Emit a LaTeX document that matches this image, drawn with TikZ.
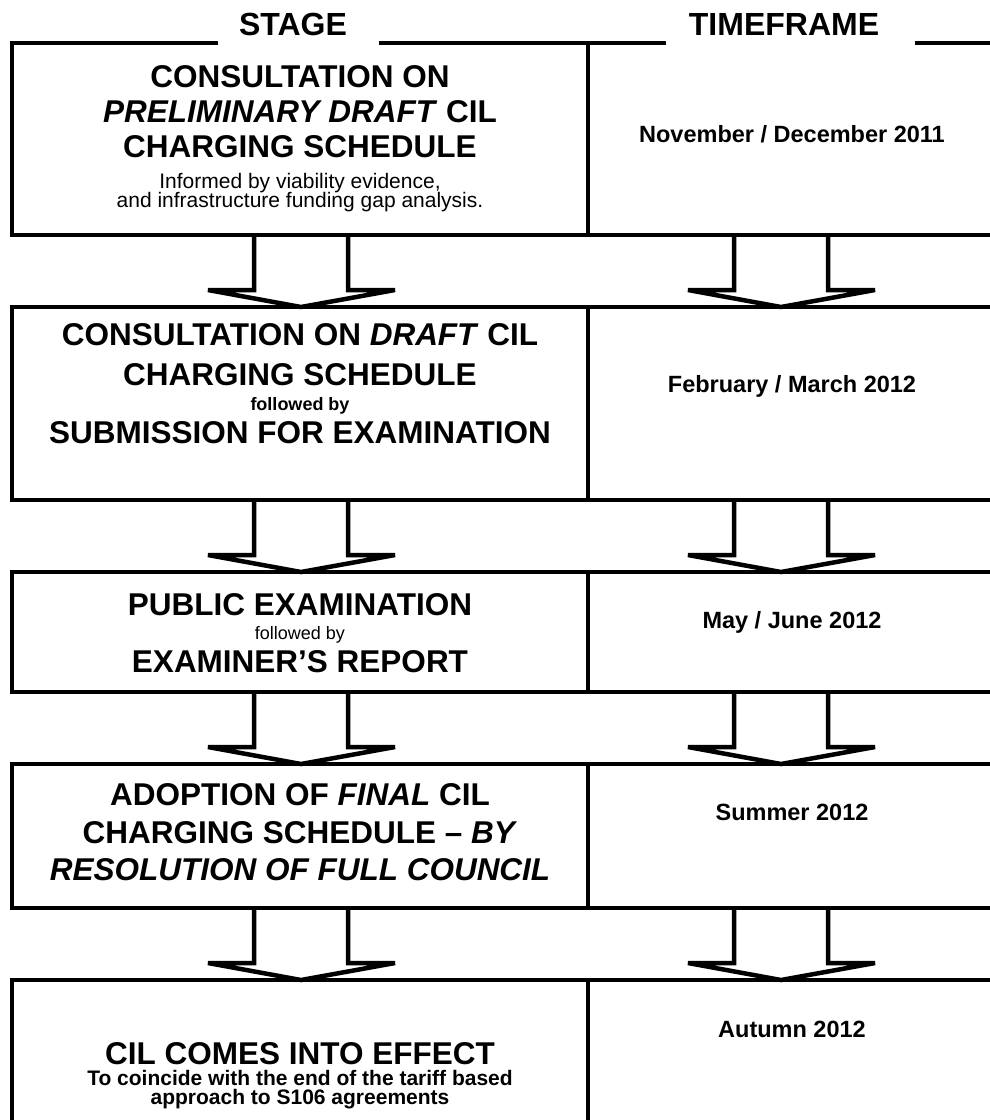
\documentclass[tikz,border=0pt]{standalone}
\usepackage{fontspec}
\setmainfont{Liberation Sans}
\usetikzlibrary{calc}
\tikzset{
  ln/.style={line width=4.5pt, line join=miter, line cap=butt},
  cellL/.style={ln, draw, minimum width=576pt, inner sep=0pt, outer sep=0pt},
  cellR/.style={ln, draw, minimum width=408pt, inner sep=0pt, outer sep=0pt},
  hdr/.style={font=\bfseries\fontsize{32}{36}\selectfont, anchor=base, inner sep=0pt},
  big/.style={font=\bfseries\fontsize{31.5}{36}\selectfont, anchor=base, inner sep=0pt},
  note/.style={font=\fontsize{21}{24}\selectfont, anchor=base, inner sep=0pt},
  noteb/.style={font=\bfseries\fontsize{21}{24}\selectfont, anchor=base, inner sep=0pt},
  fol/.style={font=\fontsize{18}{20}\selectfont, anchor=base, inner sep=0pt},
  folb/.style={font=\bfseries\fontsize{18}{20}\selectfont, anchor=base, inner sep=0pt},
  timetxt/.style={font=\bfseries\fontsize{23.5}{28}\selectfont, anchor=base, inner sep=0pt},
  arr/.style={ln},
}
\newcommand\flowarrow[3]{%
  \draw[arr] ($(#1.south)+(#3-47,0)$) -- ($(#1.south)+(#3-47,55)$) -- ($(#1.south)+(#3-93,55)$)
    -- ($(#2.north)+(#3,0)$) -- ($(#1.south)+(#3+94,55)$) -- ($(#1.south)+(#3+47,55)$)
    -- ($(#1.south)+(#3+47,0)$);}
\begin{document}
\begin{tikzpicture}[x=1pt,y=-1pt]
\useasboundingbox (0,0) rectangle (990,1120);
\clip (0,0) rectangle (990,1120);
\fill[white] (0,0) rectangle (990,1120);

% header
\node[hdr] (stage) at (293,35.5) {STAGE};
\node[hdr] (tframe) at (784,35.5) {TIMEFRAME};
\coordinate (g1) at (218,43);
\coordinate (g2) at (379,43);
\coordinate (g3) at (666,43);
\coordinate (g4) at (915,43);

% cells
\node[cellL, draw=none, minimum height=192pt] (s1) at (300,139) {};
\node[cellR, draw=none, minimum height=192pt] (f1) at (792,139) {};
\draw[ln] (g1) -- (s1.north west) -- (s1.south west) -- (s1.south east) -- (f1.south east) -- (f1.north east) -- (g4);
\draw[ln] (g2) -- (g3);
\draw[ln] (s1.north east) -- (s1.south east);

\node[cellL, minimum height=193pt] (s2) at (300,403.5) {};
\node[cellR, minimum height=193pt] (f2) at (792,403.5) {};
\node[cellL, minimum height=120pt] (s3) at (300,632) {};
\node[cellR, minimum height=120pt] (f3) at (792,632) {};
\node[cellL, minimum height=144pt] (s4) at (300,836) {};
\node[cellR, minimum height=144pt] (f4) at (792,836) {};
\node[cellL, minimum height=150pt] (s5) at (300,1055) {};
\node[cellR, minimum height=150pt] (f5) at (792,1055) {};

% arrows
\flowarrow{s1}{s2}{1}
\flowarrow{f1}{f2}{-11}
\flowarrow{s2}{s3}{1}
\flowarrow{f2}{f3}{-11}
\flowarrow{s3}{s4}{1}
\flowarrow{f3}{f4}{-11}
\flowarrow{s4}{s5}{1}
\flowarrow{f4}{f5}{-11}

% row 1
\node[big] (t1a) at (300,87) {CONSULTATION ON};
\node[big] (t1b) at (300,122) {\textit{PRELIMINARY DRAFT} CIL};
\node[big] (t1c) at (300,157) {CHARGING SCHEDULE};
\node[note] (t1d) at (300,188) {Informed by viability evidence,};
\node[note] (t1e) at (300,207) {and infrastructure funding gap analysis.};
\node[timetxt] (d1) at (792,142) {November / December 2011};

% row 2
\node[big] (t2a) at (300,345) {CONSULTATION ON \textit{DRAFT} CIL};
\node[big] (t2b) at (300,385) {CHARGING SCHEDULE};
\node[folb] (t2c) at (300,410) {followed by};
\node[big] (t2d) at (300,443) {SUBMISSION FOR EXAMINATION};
\node[timetxt] (d2) at (792,392) {February / March 2012};

% row 3
\node[big] (t3a) at (300,615) {PUBLIC EXAMINATION};
\node[fol] (t3b) at (300,639) {followed by};
\node[big] (t3c) at (300,672) {EXAMINER’S REPORT};
\node[timetxt] (d3) at (792,628) {May / June 2012};

% row 4
\node[big] (t4a) at (300,805) {ADOPTION OF \textit{FINAL} CIL};
\node[big] (t4b) at (300,843) {CHARGING SCHEDULE – \textit{BY}};
\node[big] (t4c) at (300,880) {\textit{RESOLUTION OF FULL COUNCIL}};
\node[timetxt] (d4) at (792,820) {Summer 2012};

% row 5
\node[big] (t5a) at (300,1064) {CIL COMES INTO EFFECT};
\node[noteb] (t5b) at (300,1085) {To coincide with the end of the tariff based};
\node[noteb] (t5c) at (300,1104) {approach to S106 agreements};
\node[timetxt] (d5) at (792,1037) {Autumn 2012};
\end{tikzpicture}
\end{document}
